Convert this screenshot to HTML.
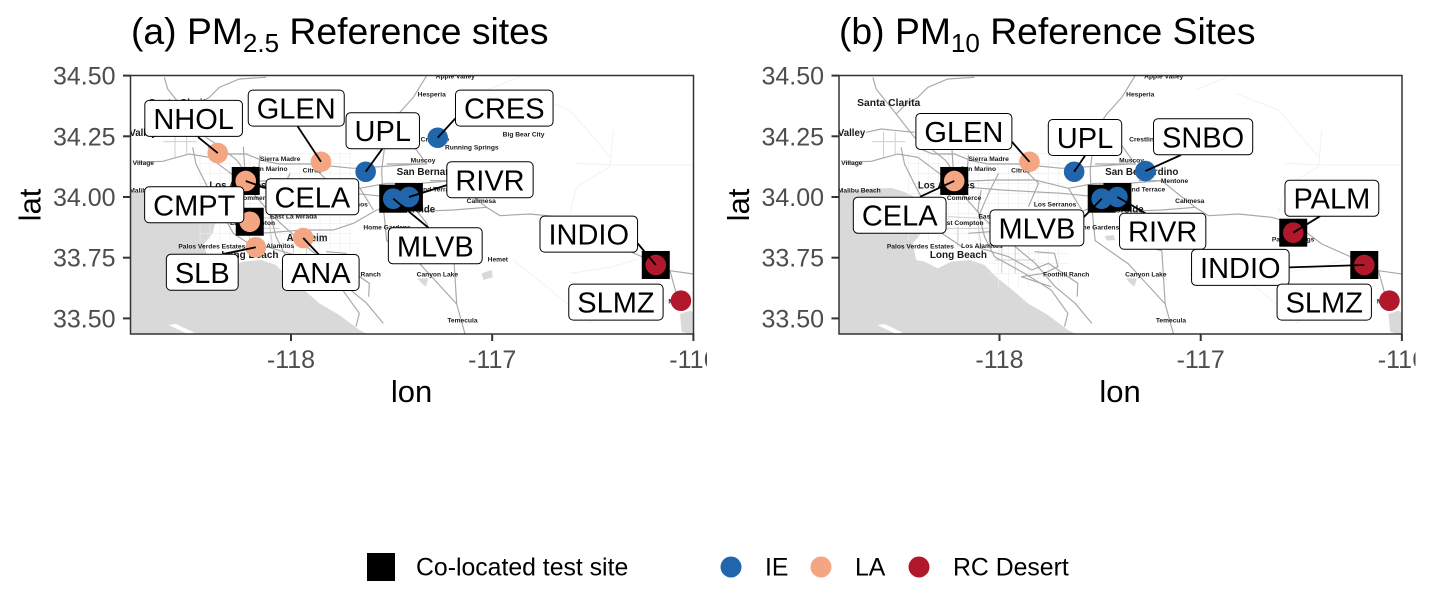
<!DOCTYPE html>
<html>
<head>
<meta charset="utf-8">
<title>PM reference sites</title>
<style>
html,body{margin:0;padding:0;background:#fff;width:1436px;height:600px;overflow:hidden}
svg{display:block}
text{font-family:"Liberation Sans",Arial,sans-serif}
</style>
</head>
<body>
<svg id="chart" xmlns="http://www.w3.org/2000/svg" width="1436" height="600" viewBox="0 0 1436 600">
  <rect x="0" y="0" width="1436" height="600" fill="#fff"/>
  <text x="131" y="44" font-size="37.3" fill="#000">(a) PM<tspan dy="8" font-size="26">2.5</tspan><tspan dy="-8"> Reference sites</tspan></text>
  <text x="839" y="44" font-size="37.3" fill="#000">(b) PM<tspan dy="8" font-size="26">10</tspan><tspan dy="-8"> Reference Sites</tspan></text>
  <g id="panels"></g>
  <g id="legend">
    <rect x="367" y="553" width="28" height="28" fill="#000"/>
    <text x="416" y="575.5" font-size="24.8" fill="#000">Co-located test site</text>
    <circle cx="731" cy="567" r="10.5" fill="#2166ac"/>
    <text x="765" y="575.5" font-size="24.8" fill="#000">IE</text>
    <circle cx="821" cy="567" r="10.5" fill="#f4a582"/>
    <text x="855" y="575.5" font-size="24.8" fill="#000">LA</text>
    <circle cx="919" cy="567" r="10.5" fill="#b2182b"/>
    <text x="953" y="575.5" font-size="24.8" fill="#000">RC Desert</text>
  </g>
</svg>
<script>
// ---- chart data ----
const xTickValues = [-118, -117, -116];
const xTickLabels = ['-118', '-117', '-116'];
const yTickValues = [33.5, 33.75, 34, 34.25, 34.5];
const yTickLabels = ['33.50', '33.75', '34.00', '34.25', '34.50'];

const sitesA   = ['NHOL','GLEN','UPL','CRES','CELA','CMPT','SLB','ANA','MLVB','RIVR','INDIO','SLMZ'];
const regionA  = ['LA','LA','IE','IE','LA','LA','LA','LA','IE','IE','RC','RC'];
const coloA    = [0,0,0,0,1,1,0,0,1,1,1,0];
const lonA     = [-118.364,-117.851,-117.629,-117.271,-118.225,-118.205,-118.175,-117.939,-117.492,-117.414,-116.187,-116.062];
const latA     = [34.181,34.145,34.104,34.244,34.066,33.898,33.793,33.831,33.993,34.0,33.72,33.573];
const labelLonA= [-118.484,-117.974,-117.544,-116.94,-117.894,-118.481,-118.441,-117.852,-117.283,-117.011,-116.52,-116.385];
const labelLatA= [34.324,34.366,34.273,34.366,34.001,33.968,33.69,33.689,33.799,34.071,33.847,33.567];
const leaderLonA=[-118.462,-117.967,-117.546,-117.183,-118.124,-118.205,-118.338,-117.861,-117.318,-117.225,-116.277,-116.062];
const leaderLatA=[34.247,34.291,34.199,34.324,34.036,33.898,33.765,33.762,33.874,34.049,33.809,33.573];

const sitesB   = ['GLEN','UPL','SNBO','CELA','MLVB','RIVR','PALM','INDIO','SLMZ'];
const regionB  = ['LA','IE','IE','LA','IE','IE','RC','RC','RC'];
const coloB    = [0,0,0,1,1,1,1,1,0];
const lonB     = [-117.851,-117.629,-117.275,-118.225,-117.492,-117.414,-116.54,-116.187,-116.062];
const latB     = [34.145,34.104,34.107,34.066,33.993,34.0,33.853,33.72,33.573];
const labelLonB= [-118.177,-117.575,-116.988,-118.496,-117.814,-117.189,-116.348,-116.803,-116.386];
const labelLatB= [34.27,34.245,34.248,33.925,33.873,33.859,33.995,33.71,33.567];
const leaderLonB=[-117.939,-117.575,-117.098,-118.395,-117.582,-117.275,-116.407,-116.561,-116.062];
const leaderLatB=[34.228,34.17,34.173,34.001,33.916,33.933,33.921,33.71,33.573];

const regionColors = {IE:'#2166ac', LA:'#f4a582', RC:'#b2182b'};

// ---- basemap (background artwork, in 3x local units) ----
const majorRoads = [
 'M133 52L143 87 203 162 258 232 300 260 350 300 380 340',
 'M203 162L233 132 268 112 298 82 358 57 438 52',
 'M113 217L158 207 258 217',
 'M48 307L128 304 208 282 268 292 308 322 348 352',
 'M218 262L228 312 268 392 340 520 400 560',
 'M263 262L313 282 378 282 428 302 478 312 568 312 700 325 780 320 900 312',
 'M380 365L500 360 620 360 720 385 800 370 900 370 1000 362',
 'M400 380L520 390 700 400 800 410 880 440',
 'M420 520L550 510 640 510 700 490 770 450 830 430',
 'M400 400L460 470 560 560 620 610 680 680 740 730 790 790',
 'M440 560L540 590 610 630 660 610 748 670 746 710',
 'M880 440L920 490 950 560 1000 572',
 'M920 47L880 112 835 162 800 212 785 330 790 440 800 542 900 612 1010 732 1035 822',
 'M1000 572L1010 732',
 'M870 455L1000 450 1100 442 1140 467 1230 462 1330 472 1400 492 1480 552 1570 592 1650 632 1720 642',
 'M930 362L1000 362 1030 387 1100 442',
 'M800 312L920 312 880 257',
 'M1650 632L1680 742',
 'M590 330L630 370 600 440',
 'M510 340L480 400 450 470',
 'M420 285L415 340',
 'M370 260L375 340',
 'M720 385L760 450',
 'M458 390L448 450 468 530 498 590 588 640 668 690 718 760 708 800',
 'M618 575L678 580 688 620 648 640 578 650 668 680'
];
const mediumRoads = [
 'M358 470L468 475',
 'M388 500L388 560',
 'M448 490L458 560',
 'M348 505L478 505',
 'M500 540L620 545',
 'M130 245L230 245',
 'M165 215V295',
 'M200 215V285',
 'M520 560V640',
 'M560 520V640',
 'M500 600H620'
];
const faintRoads = [
 'M1370 310L1490 315 1720 315',
 'M1480 210L1470 320 1370 380 1350 460',
 'M1610 580L1480 620 1350 640',
 'M1220 100L1350 150 1470 290',
 'M1610 580L1620 640',
 'M1100 90L1200 50',
 'M1180 600L1280 680 1400 780',
 'M1650 720L1500 740 1400 790'
];
const cityNames = ['Santa Clarita','Valley','Village','Malibu Beach','Sierra Madre','San Marino','Citrus','Los Angeles','Commerce','East La Mirada','East Compton','Palos Verdes Estates','Los Alamitos','Long Beach','Anaheim','Foothill Ranch','Home Gardens','Los Serranos','San Bernardino','Muscoy','Riverside','Grand Terrace','Mentone','Calimesa','Crestline','Running Springs','Big Bear City','Hesperia','Apple Valley','Hemet','Canyon Lake','Temecula','Palm Springs','Mecca'];
const cityX = [86,28,38,28,420,395,548,268,355,450,330,175,398,304,500,644,730,616,830,872,815,875,997,1040,902,975,1148,893,947,1103,890,982,1330,1645];
const cityY = [127,218,308,390,296,326,330,375,413,468,488,558,557,583,533,642,502,433,334,301,447,388,362,422,237,262,223,102,48,597,642,781,537,723];
const citySize= [31,29,20,20,20,20,20,29,20,20,20,20,20,30,29,20,20,20,29.5,20,29,20,20,20,20,20,20,20,20,20,20,20,20,20];
const NS = 'http://www.w3.org/2000/svg';

function el(parent, tag, attrs, text){
  const n = document.createElementNS(NS, tag);
  for (const k in attrs) n.setAttribute(k, attrs[k]);
  if (text !== undefined) n.textContent = text;
  parent.appendChild(n);
  return n;
}

function drawBasemap(parent, id){
  const map = el(parent, 'g', {transform:'scale(0.33333)'});
  
  
  const sea = el(map, 'path', {fill:'#d9d9d9', d:'M-10 395L60 395 130 385 190 384 225 395 268 415 290 470 278 520 253 550 263 600 288 605 328 625 368 605 423 600 468 615 508 655 558 695 598 730 658 765 718 810 758 830 758 860-10 860Z'});
  
  
  const island = el(map, 'path', {fill:'#fff', d:'M146 795L168 792 223 818 203 822Z'});
  
  
  const lakes = el(map, 'path', {fill:'#d9d9d9', d:'M1085 640L1115 630 1118 652 1090 660ZM892 655L925 655 918 680 905 670ZM1680 762L1710 752 1730 760 1730 830 1685 815ZM828 528L855 525 860 540 835 542Z'});
  
  
  for (let x = 240; x < 720; x += 30) {
    const g = el(map, 'path', {d:'M'+x+' 280V'+(x < 500 ? 540 : 680), stroke:'#eeeeee', 'stroke-width':2, fill:'none'});
    
    
  }
  for (let y = 280; y < 660; y += 30) {
    const g = el(map, 'path', {d:'M'+(y < 540 ? 240 : 480)+' '+y+'H'+(y < 540 ? 700 : 720), stroke:'#eeeeee', 'stroke-width':2, fill:'none'});
    
    
  }
  faintRoads.forEach(d => {
    const r = el(map, 'path', {d:d, stroke:'#f2f2f2', 'stroke-width':3, fill:'none'});
    
    
  });
  mediumRoads.forEach(d => {
    const r = el(map, 'path', {d:d, stroke:'#cfcfcf', 'stroke-width':3, fill:'none'});
    
    
  });
  majorRoads.forEach(d => {
    const r = el(map, 'path', {d:d, stroke:'#a8a8a8', 'stroke-width':3.5, fill:'none'});
    
    
  });
  cityNames.forEach((c, i) => {
    const t = el(map, 'text', {x:cityX[i], y:cityY[i] + citySize[i] * 0.36, 'font-size':citySize[i], 'font-weight':'bold', fill:'#1a1a1a'}, c);
    
    
  });
}

function drawPanel(key, left, tickM118, sites, region, colo, lon, lat, lblLon, lblLat, ldLon, ldLat){
  const root = document.getElementById('panels');
  const pxPerLon = 201.2, pxPerLat = 242.8;
  const X = v => tickM118 + (v + 118) * pxPerLon;
  const Y = v => 197 + (34 - v) * pxPerLat;
  const top = 75.5, bottom = 334, right = left + 563;

  const g = el(root, 'g', {});
  
  

  const defs = el(g, 'defs', {});
  const cp = el(defs, 'clipPath', {id:'clip-' + key});
  el(cp, 'rect', {x:left, y:top, width:563, height:bottom - top});
  const cpx = el(defs, 'clipPath', {id:'tickclip-' + key});
  el(cpx, 'rect', {x:left - 20, y:bottom, width:563 + 33.5, height:60});

  const mapClip = el(g, 'g', {'clip-path':'url(#clip-' + key + ')'});
  
  
  const mapPos = el(mapClip, 'g', {transform:'translate(' + (left - 10.5) + ',60)'});
  
  
  drawBasemap(mapPos, key);

  // x axis
  const xTickGroup = el(g, 'g', {'clip-path':'url(#tickclip-' + key + ')'});
  
  
  xTickValues.forEach((v, i) => {
    const t = el(xTickGroup, 'line', {x1:X(v), x2:X(v), y1:bottom, y2:bottom + 7, stroke:'#333', 'stroke-width':2});
    
    
    const l = el(xTickGroup, 'text', {x:X(v), y:368, 'text-anchor':'middle', 'font-size':25, fill:'#4d4d4d'}, xTickLabels[i]);
    
    
  });
  // y axis
  yTickValues.forEach((v, i) => {
    const t = el(g, 'line', {x1:left - 7.5, x2:left, y1:Y(v), y2:Y(v), stroke:'#333', 'stroke-width':2});
    
    
    const l = el(g, 'text', {x:left - 15, y:Y(v) + 9, 'text-anchor':'end', 'font-size':25, fill:'#4d4d4d'}, yTickLabels[i]);
    
    
  });
  const xt = el(g, 'text', {x:left + 281, y:402, 'text-anchor':'middle', 'font-size':31, fill:'#000'}, 'lon');
  
  
  const yt = el(g, 'text', {x:0, y:0, transform:'translate(' + (left - 90) + ',205) rotate(-90)', 'text-anchor':'middle', 'font-size':31, fill:'#000'}, 'lat');
  
  

  const marks = el(g, 'g', {'clip-path':'url(#clip-' + key + ')'});
  
  

  sites.forEach((s, i) => {
    if (!colo[i]) return;
    const r = el(marks, 'rect', {x:X(lon[i]) - 14, y:Y(lat[i]) - 14, width:28, height:28, fill:'#000'});
    
    
  });
  sites.forEach((s, i) => {
    const c = el(marks, 'circle', {cx:X(lon[i]), cy:Y(lat[i]), r:10.3, fill:regionColors[region[i]]});
    
    
  });
  sites.forEach((s, i) => {
    const l = el(marks, 'line', {x1:X(lon[i]), y1:Y(lat[i]), x2:X(ldLon[i]), y2:Y(ldLat[i]), stroke:'#000', 'stroke-width':1.8});
    
    
  });
  const fs = 29;
  sites.forEach((s, i) => {
    const cx = X(lblLon[i]), cy = Y(lblLat[i]);
    const box = el(marks, 'rect', {x:cx - 40, y:cy - 18, width:80, height:36, rx:4.5, ry:4.5, fill:'#fff', stroke:'#000', 'stroke-width':1});
    
    
    const t = el(marks, 'text', {x:cx, y:cy + 10.5, 'text-anchor':'middle', 'font-size':fs, fill:'#000'}, s);
    
    
    const w = t.getComputedTextLength() + 17;
    box.setAttribute('x', cx - w / 2);
    box.setAttribute('width', w);
  });

  const border = el(g, 'rect', {x:left, y:top, width:563, height:bottom - top, fill:'none', stroke:'#333', 'stroke-width':1.5});
  
  
}

drawPanel('a', 130.5, 291, sitesA, regionA, coloA, lonA, latA, labelLonA, labelLatA, leaderLonA, leaderLatA);
drawPanel('b', 839, 999.5, sitesB, regionB, coloB, lonB, latB, labelLonB, labelLatB, leaderLonB, leaderLatB);
</script>
</body>
</html>
